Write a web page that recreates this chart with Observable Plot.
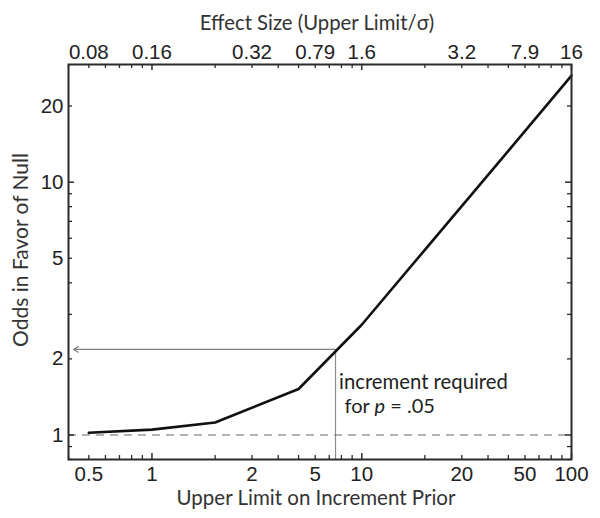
<!DOCTYPE html>
<html><head><meta charset="utf-8">
<script src="https://cdn.jsdelivr.net/npm/d3@7"></script>
<script src="https://cdn.jsdelivr.net/npm/@observablehq/plot@0.6"></script>
<style>body{margin:0;background:#fff;}</style>
</head><body><div id="chart"></div>
<script>
// Data
const upperLimit = [0.5, 1, 2, 5, 10, 20, 50, 100];
const oddsForNull = [1.02, 1.05, 1.12, 1.52, 2.73, 5.4, 13.3, 26.4];
const critUpper = 7.5;     // increment required for p = .05
const critOdds = 2.18;

// Tick labels (as placed in the reference)
const bottomLabelPos = [0.5, 1, 3, 6, 10, 30, 60, 100];
const bottomLabels = ["0.5", "1", "2", "5", "10", "20", "50", "100"];
const topLabels = ["0.08", "0.16", "0.32", "0.79", "1.6", "3.2", "7.9", "16"];
const yLabelValues = [1, 2, 5, 10, 20];

// Tick marks
const xMinorTicks = [0.4, 0.5, 0.6, 0.7, 0.8, 0.9, 2, 3, 4, 5, 6, 7, 8, 9, 20, 30, 40, 50, 60, 70, 80, 90];
const xMajorTicks = [1, 10, 100];
const yMinorTicks = [0.8, 0.9, 2, 3, 4, 5, 6, 7, 8, 9, 20];
const yMajorTicks = [1, 10];

const xDomain = [0.4, 100];
const yDomain = [0.8, 29.2];

const W = 600, H = 518;
const mTop = 64, mBottom = 59, mLeft = 68, mRight = 29;
const innerW = W - mLeft - mRight, innerH = H - mTop - mBottom;

const tickFont = "Liberation Sans, Arial, sans-serif";
const titleFont = "Lato, 'Open Sans', sans-serif";
const ink = "#2a2a2a";

const series = upperLimit.map((x, i) => ({x, y: oddsForNull[i]}));

const chart = Plot.plot({
  width: W, height: H,
  marginTop: mTop, marginBottom: mBottom, marginLeft: mLeft, marginRight: mRight,
  style: {background: "#fff", color: ink},
  x: {type: "log", domain: xDomain, axis: null},
  y: {type: "log", domain: yDomain, axis: null},
  marks: [
    Plot.ruleY([1], {stroke: "#9a9a9a", strokeWidth: 1.3, strokeDasharray: "8,6"}),
    Plot.ruleX([critUpper], {y1: critOdds, y2: yDomain[0], stroke: "#8a8a8a", strokeWidth: 1.2}),
    Plot.arrow([{x1: critUpper, y1: critOdds, x2: xDomain[0], y2: critOdds}],
      {x1: "x1", y1: "y1", x2: "x2", y2: "y2", stroke: "#808080", strokeWidth: 1.2, headLength: 7, insetEnd: 5}),
    Plot.line(series, {x: "x", y: "y", stroke: "#111", strokeWidth: 2.6}),
    // inward tick marks
    Plot.ruleX(xMinorTicks, {insetTop: innerH - 4, stroke: ink, strokeWidth: 1.3}),
    Plot.ruleX(xMajorTicks, {insetTop: innerH - 6, stroke: ink, strokeWidth: 1.5}),
    Plot.ruleX(xMinorTicks, {insetBottom: innerH - 4, stroke: ink, strokeWidth: 1.3}),
    Plot.ruleX(xMajorTicks, {insetBottom: innerH - 6, stroke: ink, strokeWidth: 1.5}),
    Plot.ruleY(yMinorTicks, {insetRight: innerW - 4, stroke: ink, strokeWidth: 1.3}),
    Plot.ruleY(yMajorTicks, {insetRight: innerW - 6, stroke: ink, strokeWidth: 1.5}),
    Plot.ruleY(yMinorTicks, {insetLeft: innerW - 4, stroke: ink, strokeWidth: 1.3}),
    Plot.ruleY(yMajorTicks, {insetLeft: innerW - 6, stroke: ink, strokeWidth: 1.5}),
    Plot.frame({stroke: ink, strokeWidth: 2}),
    // tick labels
    Plot.text(bottomLabelPos, {x: d => d, text: (d, i) => bottomLabels[i], frameAnchor: "bottom",
      textAnchor: "middle", lineAnchor: "middle", dy: 14.5, fontSize: 20.5, fontFamily: tickFont, fill: "#222"}),
    Plot.text(bottomLabelPos, {x: d => d, text: (d, i) => topLabels[i], frameAnchor: "top",
      textAnchor: "middle", lineAnchor: "middle", dy: -12.5, fontSize: 20.5, fontFamily: tickFont, fill: "#222"}),
    Plot.text(yLabelValues, {y: d => d, text: d => String(d), frameAnchor: "left",
      textAnchor: "end", lineAnchor: "middle", dx: -5, fontSize: 20.5, fontFamily: tickFont, fill: "#222"}),
    // axis titles
    Plot.text(["Effect Size (Upper Limit/σ)"], {frameAnchor: "top", textAnchor: "middle", lineAnchor: "middle",
      dy: -41.5, dx: -3, fontSize: 20.3, fontFamily: titleFont, fill: "#333"}),
    Plot.text(["Upper Limit on Increment Prior"], {frameAnchor: "bottom", textAnchor: "middle", lineAnchor: "middle",
      dy: 39, dx: -4, fontSize: 20.5, fontFamily: titleFont, fill: "#333"}),
    Plot.text(["Odds in Favor of Null"], {frameAnchor: "left", textAnchor: "middle", lineAnchor: "middle",
      dx: -47.5, dy: -12, rotate: -90, fontSize: 21, fontFamily: titleFont, fill: "#333"}),
    // annotation
    Plot.text([{x: critUpper, y: critOdds, t: "increment required"}],
      {x: "x", y: "y", text: "t", textAnchor: "start", dx: 3.5, dy: 33.5, fontSize: 20.3, fontFamily: titleFont, fill: "#222"}),
    Plot.text([{x: critUpper, y: critOdds, t: "for p = .05"}],
      {x: "x", y: "y", text: "t", textAnchor: "start", dx: 9, dy: 57, fontSize: 20, fontFamily: titleFont, fill: "#222"})
  ]
});

// italicize the "p"
d3.select(chart).selectAll("text").each(function() {
  if (this.textContent === "for p = .05") {
    const el = d3.select(this);
    el.text("");
    el.append("tspan").text("for ");
    el.append("tspan").attr("font-style", "italic").text("p");
    el.append("tspan").text(" = .05");
  }
});

document.getElementById("chart").appendChild(chart);
</script>
</body></html>
